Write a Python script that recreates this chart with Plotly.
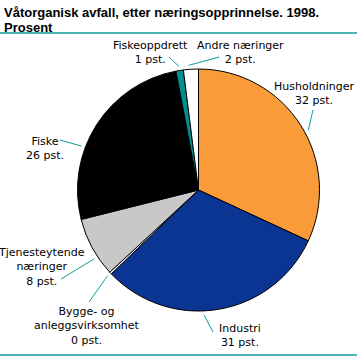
import math
import plotly.graph_objects as go

# ---- data ----
categories = ["Husholdninger", "Industri", "Bygge- og anleggsvirksomhet",
              "Tjenesteytende næringer", "Fiske", "Fiskeoppdrett", "Andre næringer"]
values = [32, 31, 0.3, 8, 26, 1, 2]
label_texts = ["Husholdninger<br>32 pst.", "Industri<br>31 pst.",
               "Bygge- og<br>anleggsvirksomhet<br>0 pst.",
               "Tjenesteytende<br>næringer<br>8 pst.", "Fiske<br>26 pst.",
               "Fiskeoppdrett<br>1 pst.", "Andre næringer<br>2 pst."]
title_lines = ["Våtorganisk avfall, etter næringsopprinnelse. 1998.", "Prosent"]

# ---- style ----
colors = ["#F99B38", "#0A3592", "#FFFFFF", "#C8C8C8", "#000000", "#00918F", "#FFFFFF"]
W = H = 357
CX, CY, R = 198.5, 190, 121
teal = "#0E9C9C"
label_font = "DejaVu Sans, Verdana, sans-serif"
title_font = "Liberation Sans, Arial, sans-serif"
# label center (px), leader end (px), angle shift (deg), start radius gap
label_pos = [(314, 94), (240, 335), (87, 326), (41, 267), (45, 148), (150, 52), (240, 52)]
line_end = [(313, 110), (213, 332), (89, 302), (61, 279), (60, 140), (169, 57), (219, 57)]
ang_shift = [4, 7, 0, -5, -12, 0, -1]
gap = 4
title_y = [13, 28]


def px(x):
    return x / W


def py(y):
    return 1 - y / H


fig = go.Figure(go.Pie(
    labels=categories, values=values, sort=False, direction="clockwise", rotation=0,
    marker=dict(colors=colors, line=dict(color="black", width=1)),
    textinfo="none", hoverinfo="label+value", showlegend=False,
    domain=dict(x=[px(CX - R), px(CX + R)], y=[py(CY + R), py(CY - R)]),
))

total = sum(values)
cum = 0
shapes = []
annotations = []
for i, v in enumerate(values):
    mid = (cum + v / 2) / total * 360 + ang_shift[i]
    cum += v
    a = math.radians(mid)
    sx = CX + (R + gap) * math.sin(a)
    sy = CY - (R + gap) * math.cos(a)
    ex, ey = line_end[i]
    shapes.append(dict(type="line", xref="paper", yref="paper",
                       x0=px(sx), y0=py(sy), x1=px(ex), y1=py(ey),
                       line=dict(color=teal, width=1)))
    lx, ly = label_pos[i]
    annotations.append(dict(text=label_texts[i], x=px(lx), y=py(ly), xref="paper", yref="paper",
                            showarrow=False, xanchor="center", yanchor="middle", align="center",
                            font=dict(size=11, color="black", family=label_font)))

# title
for t, ty in zip(title_lines, title_y):
    annotations.append(dict(text="<b>" + t + "</b>", x=px(2), y=py(ty), xref="paper", yref="paper",
                            showarrow=False, xanchor="left", yanchor="middle", align="left",
                            font=dict(size=13, color="black", family=title_font)))
# rules
shapes.append(dict(type="line", xref="paper", yref="paper", x0=0, x1=1, y0=py(33), y1=py(33),
                   line=dict(color=teal, width=1.5)))
shapes.append(dict(type="line", xref="paper", yref="paper", x0=0, x1=1, y0=py(355), y1=py(355),
                   line=dict(color=teal, width=1.5)))

fig.update_layout(width=W, height=H, margin=dict(l=0, r=0, t=0, b=0),
                  paper_bgcolor="white", plot_bgcolor="white",
                  shapes=shapes, annotations=annotations)
fig.write_html("out.html", post_script="document.body.style.margin='0';",
               config={"displayModeBar": False})
